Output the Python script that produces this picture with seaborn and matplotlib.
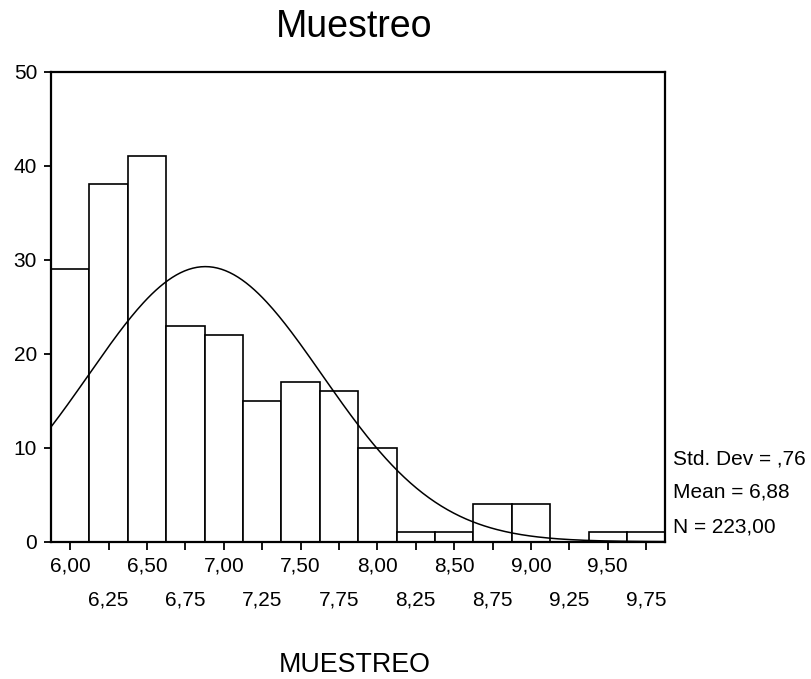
import numpy as np
import matplotlib
matplotlib.use("Agg")
import matplotlib.pyplot as plt
import seaborn as sns

sns.set_theme(style="white")
plt.rcParams['font.family'] = ['Liberation Sans', 'DejaVu Sans']
plt.rcParams['text.color'] = 'black'

# bin centres and counts
centers = [6.00, 6.25, 6.50, 6.75, 7.00, 7.25, 7.50, 7.75,
           8.00, 8.25, 8.50, 8.75, 9.00, 9.25, 9.50, 9.75]
counts = [29, 38, 41, 23, 22, 15, 17, 16, 10, 1, 1, 4, 4, 0, 1, 1]
major_ticks = [6.00, 6.50, 7.00, 7.50, 8.00, 8.50, 9.00, 9.50]
minor_ticks = [6.25, 6.75, 7.25, 7.75, 8.25, 8.75, 9.25, 9.75]
y_ticks = [0, 10, 20, 30, 40, 50]

std_dev = 0.76
mean = 6.88
n = 223
bin_width = 0.25

fs = 15
fig = plt.figure(figsize=(8.11, 6.79), dpi=100)
ax = fig.add_axes([51 / 811, 1 - 541.7 / 679, (665.3 - 51) / 811, (541.7 - 71.7) / 679])

sns.histplot(x=centers, weights=counts, binwidth=bin_width, binrange=(5.875, 9.875),
             color="white", edgecolor="black", linewidth=1.2, alpha=1, ax=ax)

# fitted normal curve scaled to counts
xs = np.linspace(5.875, 9.875, 300)
ys = n * bin_width * np.exp(-0.5 * ((xs - mean) / std_dev) ** 2) / (std_dev * np.sqrt(2 * np.pi))
sns.lineplot(x=xs, y=ys, color="black", linewidth=1.1, ax=ax)

ax.set_xlim(5.875, 9.875)
ax.set_ylim(0, 50)
ax.set_xticks(major_ticks)
ax.set_xticklabels([f"{v:.2f}".replace(".", ",") for v in major_ticks])
ax.set_xticks(minor_ticks, minor=True)
ax.set_xticklabels([f"{v:.2f}".replace(".", ",") for v in minor_ticks], minor=True)
ax.set_yticks(y_ticks)
ax.tick_params(axis="x", which="major", direction="out", length=6, width=1.3,
               pad=4.5, labelsize=fs, colors="black", bottom=True)
ax.tick_params(axis="x", which="minor", direction="out", length=6, width=1.3,
               pad=29, labelsize=fs, colors="black", bottom=True)
ax.tick_params(axis="y", direction="out", length=5, width=1.3, pad=5,
               labelsize=fs, colors="black", left=True)
ax.set_xlabel("")
ax.set_ylabel("")
for s in ax.spines.values():
    s.set_color("black")
    s.set_linewidth(1.6)

fig.text(354 / 811, 1 - 37 / 679, "Muestreo", fontsize=27, ha="center", va="baseline")
fig.text(355 / 811, 1 - 672 / 679, "MUESTREO", fontsize=19.3, ha="center", va="baseline")

stats = [f"Std. Dev = ,{int(round(std_dev * 100))}",
         f"Mean = {mean:.2f}".replace(".", ","),
         f"N = {n:.2f}".replace(".", ",")]
for txt, yb in zip(stats, [464.3, 498, 532.3]):
    fig.text(673.3 / 811, 1 - yb / 679, txt, fontsize=fs, ha="left", va="baseline")

fig.savefig("out.png", dpi=100)
